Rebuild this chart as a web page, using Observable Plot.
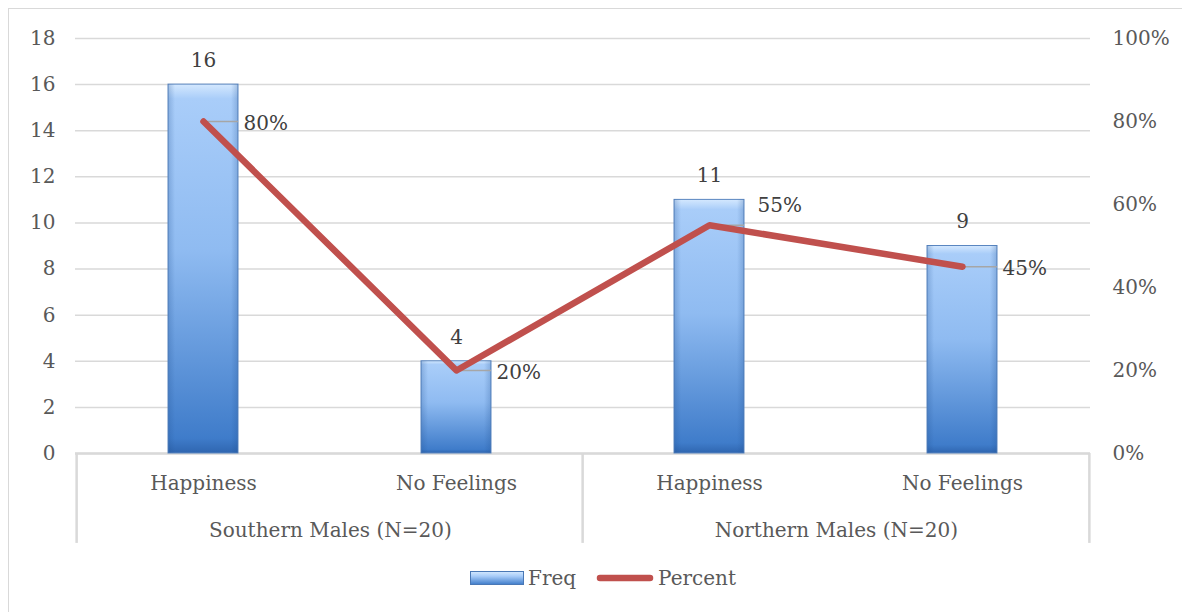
<!DOCTYPE html>
<html>
<head>
<meta charset="utf-8">
<script src="https://cdn.jsdelivr.net/npm/d3@7"></script>
<script src="https://cdn.jsdelivr.net/npm/@observablehq/plot@0.6"></script>
<style>
  html, body { margin: 0; padding: 0; background: #fff; overflow: hidden; }
  #wrap { position: relative; width: 1182px; height: 612px; font-family: "DejaVu Serif", serif; color: #595959; }
  #frame { position: absolute; left: 8px; top: 8px; width: 1200px; height: 700px; border: 1.5px solid #d9d9d9; box-sizing: border-box; pointer-events: none; }
  #chart svg { display: block; }
  #legend { position: absolute; top: 566px; left: 0; width: 1182px; display: flex; justify-content: center; align-items: center; font-size: 20px; line-height: 24px; padding-left: 24px; box-sizing: border-box; }
  #legend .item { display: flex; align-items: center; }
</style>
</head>
<body>
<div id="wrap">
  <div id="frame"></div>
  <div id="chart"></div>
  <div id="legend"></div>
</div>
<script>
const groups = ["Southern Males (N=20)", "Northern Males (N=20)"];
const categories = ["Happiness", "No Feelings", "Happiness", "No Feelings"];
const groupOf = [0, 0, 1, 1];
const freq = [16, 4, 11, 9];
const percent = [80, 20, 55, 45];
const freqTicks = [0, 2, 4, 6, 8, 10, 12, 14, 16, 18];
const pctTicks = [0, 20, 40, 60, 80, 100];
const seriesNames = ["Freq", "Percent"];

const yMax = 18;
const data = categories.map((c, i) => ({
  key: i, cat: c, group: groups[groupOf[i]],
  freq: freq[i], pct: percent[i], pctY: percent[i] / 100 * yMax
}));

const W = 1182, H = 560;
const mL = 75, mR = 92, mT = 38, mB = 107;
const step = (W - mL - mR) / categories.length;
const padIn = 0.724;
const bw = step * (1 - padIn);

const groupStarts = groups.map((g, gi) => groupOf.indexOf(gi));
const textColor = "#595959";
const gridColor = "#d9d9d9";

const plot = Plot.plot({
  width: W, height: H,
  marginLeft: mL, marginRight: mR, marginTop: mT, marginBottom: mB,
  style: { fontFamily: "'DejaVu Serif', serif", fontSize: "20px", color: textColor, background: "transparent", overflow: "visible" },
  x: { type: "band", domain: categories.map((c, i) => i), paddingInner: padIn, paddingOuter: padIn / 2 },
  y: { domain: [0, yMax] },
  marks: [
    Plot.gridY(freqTicks, { stroke: gridColor, strokeOpacity: 1, strokeWidth: 1.5 }),
    Plot.ruleY([0], { stroke: gridColor, strokeWidth: 2.5 }),
    Plot.ruleX(groupStarts, { x: d => d, y1: 0, y2: -3.9, dx: -step / 2, stroke: gridColor, strokeWidth: 2.5, clip: false }),
    Plot.ruleX([categories.length - 1], { x: d => d, y1: 0, y2: -3.9, dx: step / 2, stroke: gridColor, strokeWidth: 2.5, clip: false }),
    Plot.axisY({ ticks: freqTicks, tickSize: 0, tickPadding: 20, label: null, fill: textColor }),
    Plot.axisY({ anchor: "right", ticks: pctTicks.map(p => p / 100 * yMax), tickFormat: v => Math.round(v / yMax * 100) + "%", tickSize: 0, tickPadding: 22, label: null, fill: textColor }),
    Plot.axisX({ tickFormat: i => categories[i], tickSize: 0, tickPadding: 22, label: null, fill: textColor }),
    Plot.text(groupStarts.map((s, gi) => ({ key: s, name: groups[gi] })), { x: "key", y: 0, text: "name", dx: step / 2, dy: 77, fill: textColor }),
    Plot.barY(data, { x: "key", y: "freq", fill: "url(#barGrad)", stroke: "#5a86c0", strokeWidth: 1 }),
    Plot.barY(data, { x: "key", y: "freq", fill: "url(#barEdge)" }),
    Plot.text(data, { x: "key", y: "freq", text: d => String(d.freq), dy: -24, fill: "#404040" }),
    Plot.tickY(data, { x: "key", y: "pctY", insetLeft: bw / 2, stroke: "#a6a6a6", strokeWidth: 1.5 }),
    Plot.line(data, { x: "key", y: "pctY", stroke: "#c0504d", strokeWidth: 6.5, strokeLinecap: "round", strokeLinejoin: "round" }),
    Plot.text(data.filter(d => d.key !== 2), { x: "key", y: "pctY", text: d => d.pct + "%", dx: 40, dy: 2, textAnchor: "start", fill: "#404040" }),
    Plot.text(data.filter(d => d.key === 2), { x: "key", y: "pctY", text: d => d.pct + "%", dx: 48, dy: -20, textAnchor: "start", fill: "#404040" })
  ]
});

d3.select(plot).insert("defs", ":first-child").html(`
  <linearGradient id="barGrad" x1="0" y1="0" x2="0" y2="1">
    <stop offset="0" stop-color="#d4e8fe"/>
    <stop offset="0.04" stop-color="#a9cdf9"/>
    <stop offset="0.45" stop-color="#8fbbf1"/>
    <stop offset="0.96" stop-color="#3f7cca"/>
    <stop offset="1" stop-color="#2f66b0"/>
  </linearGradient>
  <linearGradient id="barEdge" x1="0" y1="0" x2="1" y2="0">
    <stop offset="0" stop-color="#1f4f90" stop-opacity="0.25"/>
    <stop offset="0.1" stop-color="#1f4f90" stop-opacity="0"/>
    <stop offset="0.9" stop-color="#1f4f90" stop-opacity="0"/>
    <stop offset="1" stop-color="#1f4f90" stop-opacity="0.25"/>
  </linearGradient>
`);
document.getElementById("chart").appendChild(plot);

const legend = d3.select("#legend");
const i1 = legend.append("div").attr("class", "item");
i1.append("svg").attr("width", 54).attr("height", 14).style("margin-right", "4px").html(`
  <defs><linearGradient id="lg1" x1="0" y1="0" x2="0" y2="1">
    <stop offset="0" stop-color="#d4e8fe"/><stop offset="0.35" stop-color="#a9cdf9"/><stop offset="1" stop-color="#3f7cca"/>
  </linearGradient></defs>
  <rect x="0.5" y="0.5" width="53" height="13" fill="url(#lg1)" stroke="#4a78b5" stroke-width="1"/>`);
i1.append("span").text(seriesNames[0]);
const i2 = legend.append("div").attr("class", "item").style("margin-left", "20px");
i2.append("svg").attr("width", 58).attr("height", 10).style("margin-right", "4px").html(`
  <line x1="4" y1="5" x2="54" y2="5" stroke="#c0504d" stroke-width="6.5" stroke-linecap="round"/>`);
i2.append("span").text(seriesNames[1]);
</script>
</body>
</html>
